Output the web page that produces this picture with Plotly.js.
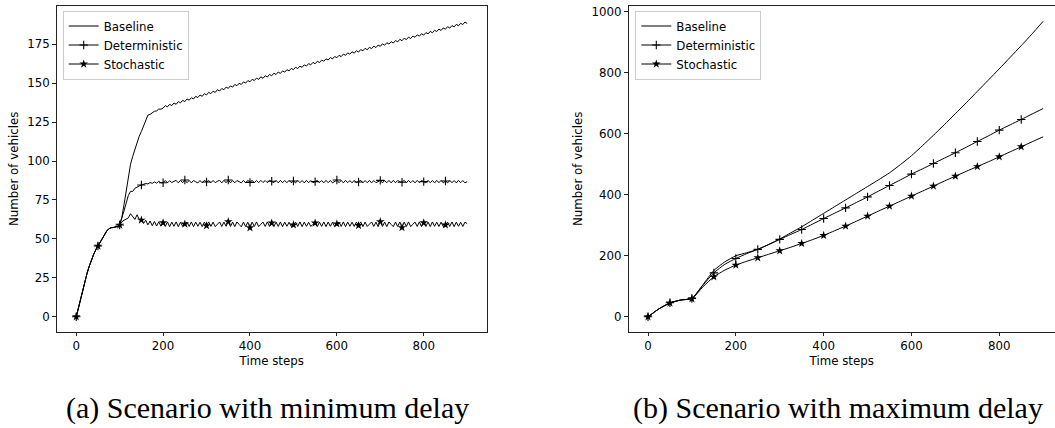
<!DOCTYPE html>
<html><head><meta charset="utf-8">
<script src="https://cdn.plot.ly/plotly-3.0.1.min.js"></script>
<style>html,body{margin:0;padding:0;background:#fff;overflow:hidden}</style>
</head><body><div id="chart" style="width:1055px;height:428px"></div>
<script>
// ---------- data: scenario (a) minimum delay ----------
const leftTime = [0,5,10,15,20,25,30,35,40,45,50,55,60,65,70,75,80,85,90,95,
100,105,110,115,120,125,130,135,140,145,150,155,160,165,170,175,180,185,190,195,
200,205,210,215,220,225,230,235,240,245,250,255,260,265,270,275,280,285,290,295,
300,305,310,315,320,325,330,335,340,345,350,355,360,365,370,375,380,385,390,395,
400,405,410,415,420,425,430,435,440,445,450,455,460,465,470,475,480,485,490,495,
500,505,510,515,520,525,530,535,540,545,550,555,560,565,570,575,580,585,590,595,
600,605,610,615,620,625,630,635,640,645,650,655,660,665,670,675,680,685,690,695,
700,705,710,715,720,725,730,735,740,745,750,755,760,765,770,775,780,785,790,795,
800,805,810,815,820,825,830,835,840,845,850,855,860,865,870,875,880,885,890,895,900];

const leftBaseline = [0,6,12,17.5,23,28,32.5,36.5,40,43,45.4,48,50.5,53,55,56.5,57.2,57.3,57.6,58,58.9,
64,72,81,90,98,103,107.5,112,116,119,122.5,125.5,129.5,130,130.8,132,132.2,133.4,133.3,
134.0,135.6,134.8,136.4,135.7,137.3,136.5,138.2,137.4,139.0,
138.2,139.9,139.1,140.7,139.9,141.6,140.8,142.4,141.6,143.3,
142.5,144.1,143.3,144.9,144.1,145.8,145.0,146.6,145.8,147.5,
146.7,148.3,147.5,149.2,148.4,150.0,149.2,150.9,150.1,151.7,
150.9,152.5,151.7,153.3,152.5,154.1,153.2,154.8,154.0,155.6,
154.8,156.4,155.6,157.2,156.3,157.9,157.1,158.7,157.9,159.5,
158.7,160.3,159.4,161.0,160.2,161.8,161.0,162.6,161.8,163.4,
162.5,164.1,163.3,164.9,164.1,165.7,164.9,166.5,165.6,167.2,
166.4,167.9,167.1,168.7,167.9,169.5,168.6,170.2,169.3,170.9,
170.0,171.6,170.8,172.4,171.5,173.1,172.2,173.8,172.9,174.5,
173.7,175.3,174.4,176.0,175.1,176.7,175.8,177.4,176.6,178.2,
177.3,178.9,178.0,179.6,178.7,180.3,179.5,181.1,180.2,181.8,
180.9,182.5,181.7,183.3,182.4,184.0,183.2,184.8,183.9,185.5,
184.7,186.3,185.4,187.0,186.2,187.8,186.9,188.5,187.7,189.3,
188.4];

const leftDeterministic = [0,6,12,17.5,23,28,32.5,36.5,40,43,45.4,48,50.5,53,55,56.5,57.2,57.3,57.6,58,58.9,
63,68,73,78,80.5,80.5,82.5,83.5,84,84.6,85.2,85.6,85.3,86.2,85.7,86.6,85.8,87.0,86.0,
86.1,87.5,86.0,87.4,86.2,87.0,87.6,86.0,87.6,86.1,
87.8,86.1,87.6,86.0,87.5,86.7,86.0,87.5,86.0,87.6,
86.6,87.5,86.0,87.6,86.1,87.0,87.6,86.0,87.6,86.1,
87.8,86.0,87.5,86.1,87.5,86.8,86.0,87.6,86.0,87.6,
86.3,87.6,86.0,87.5,86.1,87.6,86.2,87.5,86.1,87.6,
87.0,86.1,87.6,86.0,87.6,86.1,87.5,86.1,87.6,86.1,
87.2,86.0,87.6,86.1,87.5,86.0,87.6,86.1,87.5,86.1,
86.8,87.6,86.1,87.5,86.0,87.6,86.1,87.5,86.0,87.0,
87.8,86.1,87.6,86.0,87.6,86.1,87.5,86.0,87.6,86.1,
86.6,87.6,86.0,87.5,86.1,87.6,86.0,87.5,86.1,87.0,
87.6,86.0,87.5,86.1,87.6,86.0,87.6,86.1,87.5,86.8,
86.4,87.6,86.0,87.6,86.1,87.5,86.0,87.6,86.1,87.5,
86.8,86.0,87.6,86.1,87.5,86.0,87.6,86.1,87.6,86.0,
87.2,86.0,87.6,86.1,87.5,86.0,87.6,86.1,87.5,86.0,
86.8];

const leftStochastic = [0,6,12,17.5,23,28,32.5,36.5,40,43,45.4,48,50.5,53,55,56.5,57.2,57.3,57.6,58,58.9,
61,62,62.5,63.5,66.2,64,62.5,65.5,62.5,
62.1,60.0,62.0,59.0,61.5,58.5,61.2,58.3,61.0,58.2,
60.4,58.0,60.9,57.9,60.8,58.1,60.9,57.9,60.7,58.1,
59.6,60.8,58.0,60.9,57.9,60.8,58.1,60.7,57.9,60.8,
58.5,60.9,58.0,60.8,57.9,59.4,60.9,58.0,60.8,58.1,
61.1,58.0,60.8,57.9,60.9,59.3,57.8,60.8,57.9,60.7,
57.2,60.8,58.0,60.9,57.9,59.4,60.8,58.0,60.9,58.1,
60.2,57.9,60.8,58.0,60.9,57.9,60.8,58.1,60.7,58.0,
59.0,60.8,58.0,60.9,57.9,60.8,58.1,60.7,58.0,59.4,
60.2,57.9,60.8,58.0,60.9,57.9,60.8,58.1,60.7,58.0,
59.7,60.8,58.0,60.9,57.9,60.8,58.1,60.7,58.0,60.8,
58.6,60.9,57.9,60.8,58.0,59.4,60.9,58.0,60.8,57.9,
61.1,58.0,60.8,57.9,60.9,59.3,57.9,60.8,58.0,60.9,
57.3,60.8,58.0,60.9,57.9,59.4,60.8,58.0,60.9,57.9,
60.4,58.0,60.8,57.9,60.9,58.1,60.7,58.0,60.8,57.9,
59.0,60.8,58.0,60.9,57.9,60.8,58.1,60.7,58.0,60.8,
59.8];

// ---------- data: scenario (b) maximum delay ----------
const rightTime = [0,25,50,75,100,125,150,175,200,225,250,275,300,325,350,375,400,425,450,475,
500,525,550,575,600,625,650,675,700,725,750,775,800,825,850,875,900];
const rightBaseline = [0,26,45,55,60,105,152,180,200,210,221,237,255,275,295,317,339,361,383,405,
427,449,472,499,528,561,595,630,666,702,739,776,813,851,889,928,969];
const rightDeterministic = [0,26,45.9,55,60,103,144,172,191,207,221,237,253.6,270,286,304,322,339.5,357,375,
393,412,430.6,449,467.8,485,502.7,520,537.7,556,574.9,593,612,629.5,647,665,683];
const rightStochastic = [0,26,45,55,59,98,131,153,169.4,182,193.4,205,216.4,228,240.4,253,266.7,282,297.3,313.5,
330,346.5,362.8,379,395.6,412,428.4,445,461,477,492.5,508,524.6,541,557.4,574,590];

const seriesNames = ['Baseline', 'Deterministic', 'Stochastic'];
const xTickVals = [0, 200, 400, 600, 800];
const leftYTickVals = [0, 25, 50, 75, 100, 125, 150, 175];
const rightYTickVals = [0, 200, 400, 600, 800, 1000];
const markerEvery = 50;
const lastMarker = 850;
const captions = ['(a) Scenario with minimum delay', '(b) Scenario with maximum delay'];
const xTitle = 'Time steps';
const yTitle = 'Number of vehicles';

[leftBaseline, leftDeterministic, leftStochastic].forEach(a => {
  if (a.length !== leftTime.length) throw new Error('left length ' + a.length);
});
[rightBaseline, rightDeterministic, rightStochastic].forEach(a => {
  if (a.length !== rightTime.length) throw new Error('right length ' + a.length);
});

function pick(times, vals) {
  const xs = [], ys = [];
  times.forEach((t, i) => { if (t % markerEvery === 0 && t <= lastMarker) { xs.push(t); ys.push(vals[i]); } });
  return {xs, ys};
}

const BLACK = '#000000';
const plusMarker = {symbol: 'cross-thin', size: 6, color: BLACK, line: {width: 1.1, color: BLACK}};
const starMarker = {symbol: 'star', size: 6.5, color: BLACK, line: {width: 0}};

function panel(times, base, det, sto, xa, ya, legendId, shape) {
  const ln = {color: BLACK, width: 1, shape: shape, smoothing: 0.5};
  const tr = [];
  tr.push({x: times, y: base, mode: 'lines', line: ln, xaxis: xa, yaxis: ya, showlegend: false, hoverinfo: 'skip'});
  tr.push({x: times, y: det, mode: 'lines', line: ln, xaxis: xa, yaxis: ya, showlegend: false, hoverinfo: 'skip'});
  tr.push({x: times, y: sto, mode: 'lines', line: ln, xaxis: xa, yaxis: ya, showlegend: false, hoverinfo: 'skip'});
  const pd = pick(times, det), ps = pick(times, sto);
  tr.push({x: pd.xs, y: pd.ys, mode: 'markers', marker: plusMarker, xaxis: xa, yaxis: ya, showlegend: false, hoverinfo: 'skip'});
  tr.push({x: ps.xs, y: ps.ys, mode: 'markers', marker: starMarker, xaxis: xa, yaxis: ya, showlegend: false, hoverinfo: 'skip'});
  // legend entries (placed outside the visible ranges)
  const off = [-10000];
  tr.push({x: off, y: off, mode: 'lines', name: seriesNames[0], line: {color: BLACK, width: 1}, xaxis: xa, yaxis: ya, legend: legendId});
  tr.push({x: off, y: off, mode: 'lines+markers', name: seriesNames[1], line: {color: BLACK, width: 1}, marker: plusMarker, xaxis: xa, yaxis: ya, legend: legendId});
  tr.push({x: off, y: off, mode: 'lines+markers', name: seriesNames[2], line: {color: BLACK, width: 1}, marker: starMarker, xaxis: xa, yaxis: ya, legend: legendId});
  return tr;
}

const data = [].concat(
  panel(leftTime, leftBaseline, leftDeterministic, leftStochastic, 'x', 'y', 'legend', 'linear'),
  panel(rightTime, rightBaseline, rightDeterministic, rightStochastic, 'x2', 'y2', 'legend2', 'spline')
);

const W = 1055, H = 428;
const FONT = {family: 'DejaVu Sans, sans-serif', size: 11.8, color: BLACK};
const axisCommon = {
  showgrid: false, zeroline: false, showline: true, linecolor: '#222', linewidth: 1,
  ticks: 'outside', ticklen: 3.5, tickwidth: 1, tickcolor: '#222',
  tickfont: FONT, fixedrange: true, automargin: false
};
const legendCommon = {
  bgcolor: 'rgba(255,255,255,0.8)', bordercolor: '#cccccc', borderwidth: 1,
  font: FONT, xanchor: 'left', yanchor: 'top', tracegroupgap: 0, itemwidth: 30
};

const layout = {
  width: W, height: H,
  margin: {l: 0, r: 0, t: 0, b: 0},
  paper_bgcolor: '#ffffff', plot_bgcolor: '#ffffff',
  font: FONT, hovermode: false,
  xaxis: Object.assign({}, axisCommon, {
    domain: [56.7 / W, 486.7 / W], range: [-45, 945], tickvals: xTickVals, mirror: true,
    anchor: 'y', title: {text: xTitle, font: FONT, standoff: 4}
  }),
  yaxis: Object.assign({}, axisCommon, {
    domain: [(H - 331.7) / H, (H - 6) / H], range: [-9.6, 199.6], tickvals: leftYTickVals, mirror: true,
    anchor: 'x', title: {text: yTitle, font: FONT, standoff: 6}
  }),
  xaxis2: Object.assign({}, axisCommon, {
    domain: [628.5 / W, 1], range: [-44.4, 926.9], tickvals: xTickVals, mirror: true,
    anchor: 'y2', title: {text: xTitle, font: FONT, standoff: 4}
  }),
  yaxis2: Object.assign({}, axisCommon, {
    domain: [(H - 331.7) / H, (H - 6) / H], range: [-49, 1019], tickvals: rightYTickVals, mirror: false,
    anchor: 'x2', title: {text: yTitle, font: FONT, standoff: 6}
  }),
  legend: Object.assign({}, legendCommon, {x: 62.7 / W, y: (H - 10.5) / H}),
  legend2: Object.assign({}, legendCommon, {x: 635.3 / W, y: (H - 10.5) / H}),
  annotations: [
    {text: captions[0], xref: 'paper', yref: 'paper', x: 267 / W, y: (H - 408) / H,
     xanchor: 'center', yanchor: 'middle', showarrow: false,
     font: {family: 'Liberation Serif, serif', size: 30, color: BLACK}},
    {text: captions[1], xref: 'paper', yref: 'paper', x: 838 / W, y: (H - 408) / H,
     xanchor: 'center', yanchor: 'middle', showarrow: false,
     font: {family: 'Liberation Serif, serif', size: 30, color: BLACK}}
  ]
};

Plotly.newPlot('chart', data, layout, {staticPlot: true, displayModeBar: false});
</script>
</body></html>
